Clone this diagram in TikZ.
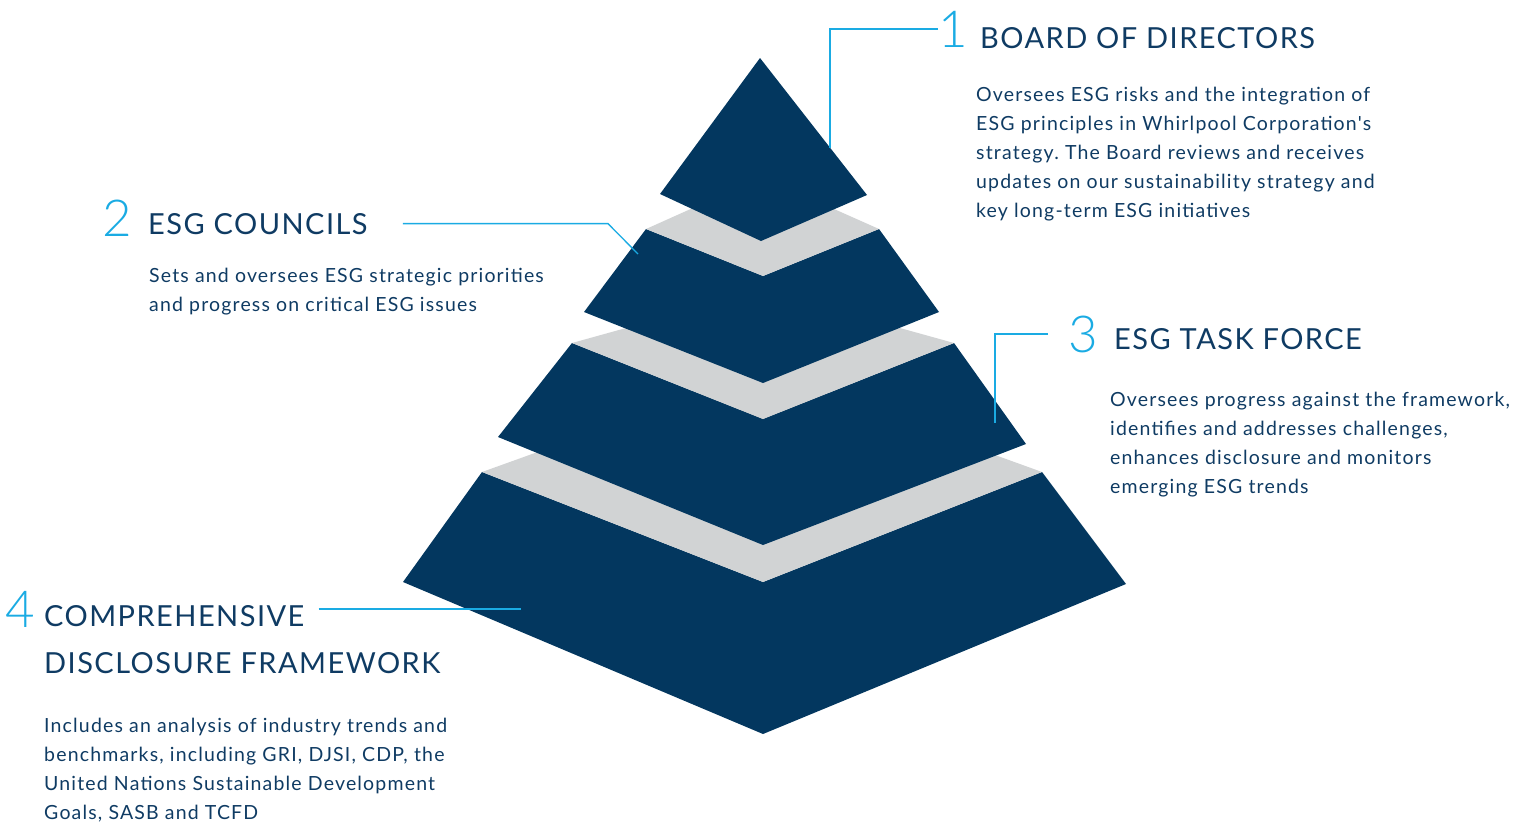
\documentclass[tikz,border=0pt]{standalone}
\usepackage{fontspec}
\setmainfont{Lato}
\newfontfamily\numfont{Lato Light}
\newfontfamily\headfont[LetterSpace=5]{Lato}
\newfontfamily\bodyfont[LetterSpace=6]{Lato}
\usetikzlibrary{positioning}
\definecolor{navy}{HTML}{03375F}
\definecolor{ink}{HTML}{0F3B63}
\definecolor{sky}{HTML}{1AABE3}
\definecolor{stone}{HTML}{D1D3D4}
\frenchspacing

\begin{document}
\begin{tikzpicture}[x=1pt,y=-1pt,
 tier/.style={fill=navy},
 face/.style={fill=stone},
 leader/.style={draw=sky,line width=1.3pt},
 num/.style={font=\numfont\fontsize{51}{51}\selectfont,text=sky,inner sep=0pt,anchor=base west},
 head/.style={font=\headfont\fontsize{29}{29}\selectfont,text=ink,inner sep=0pt,anchor=base west},
 body/.style={font=\bodyfont\fontsize{19.5}{29}\selectfont,text=ink,inner sep=0pt,anchor=base west,align=left}]
\useasboundingbox (0,0) rectangle (1530,825);
% pyramid, bottom tier first
\fill[tier] (482,472) -- (763,582) -- (1042,472) -- (1126,584) -- (763,734) -- (403,582) -- cycle;
\fill[face] (482,472) -- (763,371) -- (1042,472) -- (763,582) -- cycle;
\fill[tier] (572,343) -- (763,419) -- (954,343) -- (1026,444) -- (763,545) -- (498,437) -- cycle;
\fill[face] (572,343) -- (763,290) -- (954,343) -- (763,419) -- cycle;
\fill[tier] (646,229) -- (763,276) -- (879,229) -- (939,312) -- (763,383) -- (584,312) -- cycle;
\fill[face] (646,229) -- (762,177) -- (879,229) -- (763,276) -- cycle;
\fill[tier] (760,58) -- (867,195) -- (761,241) -- (660,194) -- cycle;
\coordinate (tip1) at (830,148);
\coordinate (bend2) at (608,223);
\coordinate (tip2) at (638,254);
\coordinate (tip3) at (995,423);
\coordinate (tip4) at (521,609);

% labels; multi-line nodes sit on their last baseline
\node[num] (num1) at (938,47) {1};
\node[head] (head1) at (980,48) {BOARD OF DIRECTORS};
\node[body] (body1) at (976,217) {Oversees ESG risks and the integration of\\ESG principles in Whirlpool Corporation's\\strategy. The Board reviews and receives\\updates on our sustainability strategy and\\key long-term ESG initiatives};

\node[num] (num2) at (102,236) {2};
\node[head] (head2) at (148,234) {ESG COUNCILS};
\node[body] (body2) at (149,311) {Sets and oversees ESG strategic priorities\\and progress on critical ESG issues};

\node[num] (num3) at (1068,352) {3};
\node[head] (head3) at (1114,349) {ESG TASK FORCE};
\node[body] (body3) at (1110,493) {Oversees progress against the framework,\\identifies and addresses challenges,\\enhances disclosure and monitors\\emerging ESG trends};

\node[num] (num4) at (5,627) {4};
\node[head] (head4a) at (44,626) {COMPREHENSIVE};
\node[head] (head4b) at (44,673) {DISCLOSURE FRAMEWORK};
\node[body] (body4) at (44,819) {Includes an analysis of industry trends and\\benchmarks, including GRI, DJSI, CDP, the\\United Nations Sustainable Development\\Goals, SASB and TCFD};

\draw[leader] (num1.west) -| (tip1);
\draw[leader] ([xshift=35pt]head2.east) -- (bend2 |- head2.east) -- (tip2);
\draw[leader] ([xshift=-20pt]num3.west) -| (tip3);
\draw[leader] ([xshift=14pt]tip4 -| head4a.east) -- (tip4);
\end{tikzpicture}
\end{document}
